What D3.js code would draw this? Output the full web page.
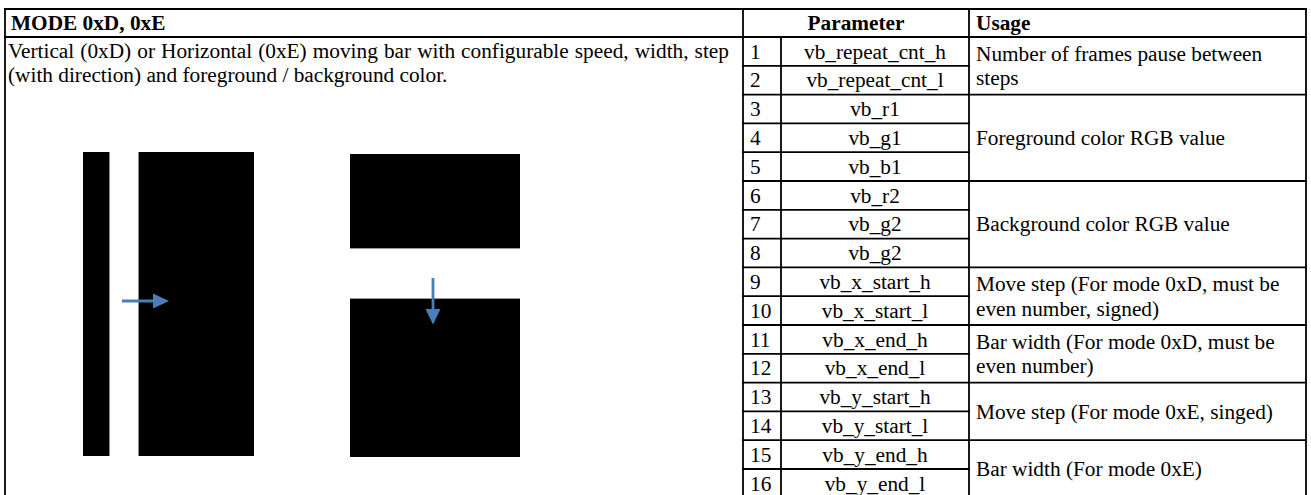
<!DOCTYPE html>
<html>
<head>
<meta charset="utf-8">
<script src="https://cdn.jsdelivr.net/npm/d3@7/dist/d3.min.js"></script>
<style>
  html, body { margin: 0; padding: 0; background: #fff; }
  svg { display: block; }
  text { font-family: "Liberation Serif", "Times New Roman", serif; fill: #000; }
</style>
</head>
<body>
<svg id="chart" width="1311" height="495"></svg>
<script>
// ---------- data ----------
const title = "MODE 0xD, 0xE";
const descriptionLines = [
  "Vertical (0xD) or Horizontal (0xE) moving bar with configurable speed, width, step",
  "(with direction) and foreground / background color."
];
const headerParameter = "Parameter";
const headerUsage = "Usage";
const paramIndex = [1, 2, 3, 4, 5, 6, 7, 8, 9, 10, 11, 12, 13, 14, 15, 16];
const paramNames = [
  "vb_repeat_cnt_h", "vb_repeat_cnt_l", "vb_r1", "vb_g1", "vb_b1",
  "vb_r2", "vb_g2", "vb_g2", "vb_x_start_h", "vb_x_start_l",
  "vb_x_end_h", "vb_x_end_l", "vb_y_start_h", "vb_y_start_l",
  "vb_y_end_h", "vb_y_end_l"
];
const usageStart = [0, 2, 5, 8, 10, 12, 14];
const usageSpan = [2, 3, 3, 2, 2, 2, 2];
const usageText = [
  ["Number of frames pause between", "steps"],
  ["Foreground color RGB value"],
  ["Background color RGB value"],
  ["Move step (For mode 0xD, must be", "even number, signed)"],
  ["Bar width (For mode 0xD, must be", "even number)"],
  ["Move step (For mode 0xE, singed)"],
  ["Bar width (For mode 0xE)"]
];

// ---------- layout ----------
const svg = d3.select("#chart");
const FS = 21.3;
const LINE = 24.5;
const colX = { left: 5, panelRight: 743, idxRight: 781, paramRight: 969, right: 1306 };
const topY = 9, headY = 37;
const y = d3.scaleLinear().domain([0, paramNames.length]).range([headY, headY + paramNames.length * 28.8]);
const bottomY = y(paramNames.length);
const base = 7.2; // baseline offset from vertical center

// header texts
svg.append("text").attr("x", 11).attr("y", (topY + headY) / 2 + base)
  .attr("font-size", FS).attr("font-weight", "bold").text(title);
svg.append("text").attr("x", (colX.panelRight + colX.paramRight) / 2).attr("y", (topY + headY) / 2 + base)
  .attr("font-size", FS).attr("font-weight", "bold").attr("text-anchor", "middle").text(headerParameter);
svg.append("text").attr("x", colX.paramRight + 7).attr("y", (topY + headY) / 2 + base)
  .attr("font-size", FS).attr("font-weight", "bold").text(headerUsage);

// description (top aligned in the merged panel cell)
svg.selectAll("text.desc").data(descriptionLines).join("text")
  .attr("class", "desc")
  .attr("x", 8)
  .attr("y", (d, i) => headY + 20.5 + i * LINE)
  .attr("font-size", FS)
  .attr("word-spacing", (d, i) => i === 0 ? 0.75 : 0)
  .text(d => d);

// index column
svg.selectAll("text.idx").data(paramIndex).join("text")
  .attr("class", "idx")
  .attr("x", colX.panelRight + 7)
  .attr("y", (d, i) => (y(i) + y(i + 1)) / 2 + base)
  .attr("font-size", FS)
  .text(d => d);

// parameter names
svg.selectAll("text.pname").data(paramNames).join("text")
  .attr("class", "pname")
  .attr("x", (colX.idxRight + colX.paramRight) / 2)
  .attr("y", (d, i) => (y(i) + y(i + 1)) / 2 + base)
  .attr("text-anchor", "middle")
  .attr("font-size", FS)
  .text(d => d);

// usage (vertically centred in merged cells)
usageText.forEach((lines, g) => {
  const s = usageStart[g], n = usageSpan[g];
  const mid = (y(s) + y(s + n)) / 2;
  lines.forEach((t, j) => {
    const cy = mid + (j - (lines.length - 1) / 2) * LINE;
    svg.append("text").attr("x", colX.paramRight + 7).attr("y", cy + base)
      .attr("font-size", FS).text(t);
  });
});

// ---------- grid lines ----------
const lines = [];
const SW = 1.8;
lines.push([colX.left, topY, colX.right, topY]);
lines.push([colX.left, headY, colX.right, headY]);
lines.push([colX.left, topY, colX.left, bottomY]);
lines.push([colX.right, topY, colX.right, bottomY]);
lines.push([colX.panelRight, topY, colX.panelRight, bottomY]);
lines.push([colX.idxRight, headY, colX.idxRight, bottomY]);
lines.push([colX.paramRight, topY, colX.paramRight, bottomY]);
lines.push([colX.left, bottomY, colX.right, bottomY]);
for (let i = 1; i < paramNames.length; i++) lines.push([colX.panelRight, y(i), colX.paramRight, y(i)]);
usageStart.slice(1).forEach(s => lines.push([colX.paramRight, y(s), colX.right, y(s)]));
svg.selectAll("line.grid").data(lines).join("line")
  .attr("class", "grid")
  .attr("x1", d => d[0]).attr("y1", d => d[1]).attr("x2", d => d[2]).attr("y2", d => d[3])
  .attr("stroke", "#000").attr("stroke-width", SW).attr("stroke-linecap", "square");

// ---------- illustration ----------
const ill = svg.append("g");
const blue = "#4a7ebb";
// vertical mode
ill.append("rect").attr("x", 83).attr("y", 152).attr("width", 26).attr("height", 304).attr("fill", "#000");
ill.append("rect").attr("x", 109).attr("y", 152).attr("width", 1).attr("height", 304).attr("fill", "#888");
ill.append("rect").attr("x", 138).attr("y", 152).attr("width", 116).attr("height", 304).attr("fill", "#000");
ill.append("rect").attr("x", 138).attr("y", 152).attr("width", 1).attr("height", 304).attr("fill", "#888");
ill.append("line").attr("x1", 122).attr("y1", 301).attr("x2", 155).attr("y2", 301)
  .attr("stroke", blue).attr("stroke-width", 2.8);
ill.append("path").attr("d", "M153,293.5 L169,301 L153,308.5 Z").attr("fill", blue);
// horizontal mode
ill.append("rect").attr("x", 350).attr("y", 154).attr("width", 170).attr("height", 95).attr("fill", "#000");
ill.append("rect").attr("x", 350).attr("y", 248).attr("width", 170).attr("height", 1).attr("fill", "#999");
ill.append("rect").attr("x", 350).attr("y", 298).attr("width", 170).attr("height", 159).attr("fill", "#000");
ill.append("rect").attr("x", 350).attr("y", 298).attr("width", 170).attr("height", 1).attr("fill", "#999");
ill.append("line").attr("x1", 433).attr("y1", 278).attr("x2", 433).attr("y2", 311)
  .attr("stroke", blue).attr("stroke-width", 2.8);
ill.append("path").attr("d", "M425.5,309 L433,324.5 L440.5,309 Z").attr("fill", blue);
</script>
</body>
</html>
